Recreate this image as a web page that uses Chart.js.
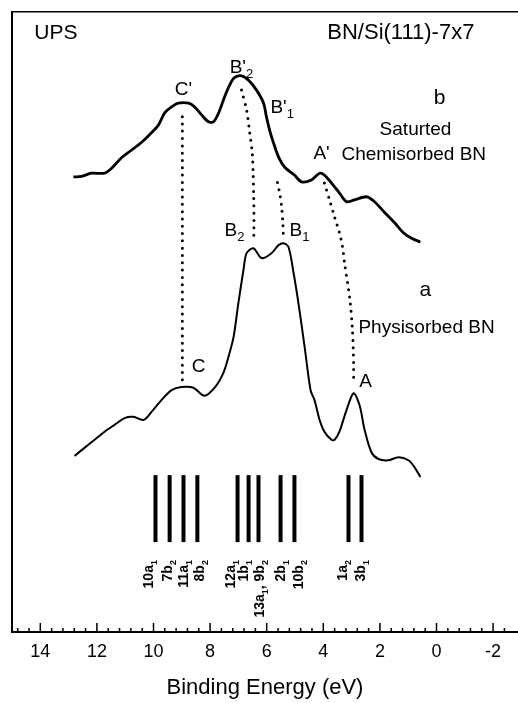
<!DOCTYPE html>
<html>
<head>
<meta charset="utf-8">
<title>UPS BN/Si(111)-7x7</title>
<script src="https://cdn.jsdelivr.net/npm/chart.js@4.4.1/dist/chart.umd.min.js"></script>
<style>
  html, body { margin: 0; padding: 0; background: #fff; }
  canvas { display: block; }
</style>
</head>
<body>
<canvas id="ups" width="518" height="703"></canvas>
<script>
// UPS-спектры BN на Si(111)-7x7 (энергия связи, эВ / интенсивность, отн. ед.)

// b — насыщенный хемосорбированный BN
const energyChem = [12.83, 12.54, 12.19, 11.73, 11.48, 11.13, 10.78, 10.42, 10.14, 9.82,
  9.61, 9.36, 9.12, 8.76, 8.55, 8.30, 8.06, 7.88, 7.70, 7.49,
  7.31, 7.14, 6.89, 6.64, 6.36, 6.11, 6.01, 5.90, 5.76, 5.58,
  5.37, 5.02, 4.77, 4.42, 4.13, 3.96, 3.71, 3.46, 3.18, 2.90,
  2.47, 2.19, 1.84, 1.48, 1.17, 0.88, 0.57];
const countsChem = [73.4, 73.5, 74.0, 74.0, 74.8, 76.5, 77.7, 79.0, 80.2, 81.8,
  83.7, 84.7, 85.3, 85.3, 84.7, 83.4, 82.3, 82.3, 83.7, 86.3,
  88.2, 89.4, 89.7, 89.0, 87.4, 85.3, 83.1, 81.0, 78.9, 76.6,
  75.0, 73.7, 72.6, 72.9, 74.0, 73.7, 72.4, 71.0, 69.4, 69.7,
  70.2, 69.4, 67.7, 66.0, 64.4, 63.5, 62.9];

// a — физсорбированный BN
const energyPhys = [12.79, 12.44, 12.08, 11.73, 11.38, 11.02, 10.71, 10.35, 10.07, 9.72,
  9.36, 9.01, 8.59, 8.20, 7.84, 7.53, 7.35, 7.17, 7.00, 6.82,
  6.71, 6.47, 6.18, 5.83, 5.58, 5.41, 5.23, 5.05, 4.88, 4.66,
  4.45, 4.31, 4.13, 3.96, 3.71, 3.60, 3.43, 3.18, 2.93, 2.72,
  2.54, 2.30, 2.05, 1.70, 1.34, 0.99, 0.78, 0.57];
const countsPhys = [28.4, 29.7, 31.0, 32.3, 33.4, 34.5, 34.7, 34.2, 35.5, 37.4,
  39.0, 39.5, 39.4, 38.1, 39.4, 41.8, 44.4, 47.6, 53.1, 58.4,
  61.1, 61.9, 60.3, 61.1, 62.4, 62.7, 62.1, 57.9, 53.1, 46.0,
  39.0, 37.4, 34.2, 32.3, 31.0, 31.0, 32.3, 35.8, 38.5, 36.6,
  32.6, 29.0, 27.9, 27.7, 28.2, 27.7, 26.6, 25.0];

// расчётные уровни молекулы (вертикальные палочки)
const orbitalEnergy = [9.93, 9.43, 8.94, 8.45, 7.03, 6.64, 6.29, 5.51, 5.02, 3.11, 2.65];
const orbitalNames = ['10a_1', '7b_2', '11a_1', '8b_2', '12a_1', '1b_1', '13a_1, 9b_2', '2b_1', '10b_2', '1a_2', '3b_1'];
const stickRange = [14.5, 25.3];

// пунктир: соответствие пиков b -> a
const linkCE = [8.98, 8.98];
const linkCV = [83.1, 39.8];
const linkB2E = [6.89, 6.71, 6.60, 6.51, 6.48, 6.46, 6.45, 6.46];
const linkB2V = [87.4, 84.2, 80.5, 77.3, 74.0, 70.2, 66.5, 63.0];
const linkB1E = [5.62, 5.53, 5.47, 5.43, 5.41];
const linkB1V = [72.5, 70.5, 68.5, 66.0, 63.5];
const linkAE = [3.96, 3.78, 3.60, 3.43, 3.32, 3.25, 3.07, 2.97, 2.93, 2.93];
const linkAV = [72.4, 69.7, 66.9, 64.4, 62.1, 59.5, 54.0, 48.7, 43.4, 40.2];

// шкала энергии
const majorTicks = [14, 12, 10, 8, 6, 4, 2, 0, -2];

const FONT = '"Liberation Sans", Arial, Helvetica, sans-serif';

// подписи на поле графика (в координатах данных)
const notes = [
  { text: 'UPS', e: 14.21, v: 96.6, align: 'left', size: 21 },
  { text: 'BN/Si(111)-7x7', e: -1.34, v: 96.6, align: 'right', size: 22 },
  { text: 'b', e: -0.11, v: 86.1, align: 'center', size: 21 },
  { text: 'Saturted', e: 2.01, v: 81.0, align: 'left', size: 19 },
  { text: 'Chemisorbed BN', e: 3.36, v: 76.9, align: 'left', size: 19 },
  { text: "A'", e: 4.06, v: 77.1, align: 'center', size: 19 },
  { text: "C'", e: 8.94, v: 87.4, align: 'center', size: 19 },
  { text: "B'_2", e: 7.31, v: 91.0, align: 'left', size: 19 },
  { text: "B'_1", e: 5.87, v: 84.5, align: 'left', size: 19 },
  { text: 'B_2', e: 7.49, v: 64.7, align: 'left', size: 19 },
  { text: 'B_1', e: 5.19, v: 64.7, align: 'left', size: 19 },
  { text: 'a', e: 0.39, v: 55.2, align: 'center', size: 21 },
  { text: 'Physisorbed BN', e: 2.76, v: 49.0, align: 'left', size: 19 },
  { text: 'C', e: 8.41, v: 42.7, align: 'center', size: 19 },
  { text: 'A', e: 2.51, v: 40.3, align: 'center', size: 19 }
];
// где стоят подписи орбиталей (по горизонтали)
const orbitalLabelE = [10.14, 9.47, 8.90, 8.34, 7.24, 6.78, 6.22, 5.48, 4.84, 3.29, 2.65];
const orbitalLabelTop = 11.6;

function toPoints(xs, ys) {
  return xs.map((x, i) => ({ x: x, y: ys[i] }));
}

// текст с нижними индексами: "B'_2" -> B' + индекс 2
function drawRich(ctx, x, y, str, size, align, bold) {
  const parts = str.split(/_(\w)/);
  const big = (bold ? 'bold ' : '') + size + 'px ' + FONT;
  const small = (bold ? 'bold ' : '') + Math.round(size * 0.66) + 'px ' + FONT;
  let total = 0;
  const widths = parts.map((p, i) => {
    ctx.font = i % 2 ? small : big;
    const w = ctx.measureText(p).width;
    total += w;
    return w;
  });
  let cx = align === 'left' ? x : align === 'right' ? x - total : x - total / 2;
  ctx.textAlign = 'left';
  ctx.textBaseline = 'middle';
  parts.forEach((p, i) => {
    ctx.font = i % 2 ? small : big;
    ctx.fillText(p, cx, i % 2 ? y + size * 0.35 : y);
    cx += widths[i];
  });
}

const annotations = {
  id: 'annotations',
  afterDraw(chart) {
    const ctx = chart.ctx;
    const xs = chart.scales.x;
    const ys = chart.scales.y;
    ctx.save();
    ctx.fillStyle = '#000';

    notes.forEach(n => {
      drawRich(ctx, xs.getPixelForValue(n.e), ys.getPixelForValue(n.v), n.text, n.size, n.align, false);
    });

    // повёрнутые подписи орбиталей
    orbitalNames.forEach((name, i) => {
      ctx.save();
      ctx.translate(xs.getPixelForValue(orbitalLabelE[i]), ys.getPixelForValue(orbitalLabelTop));
      ctx.rotate(-Math.PI / 2);
      drawRich(ctx, 0, 0, name, 14, 'right', true);
      ctx.restore();
    });

    // засечки шкалы внутрь поля
    const base = ys.getPixelForValue(ys.min);
    ctx.strokeStyle = '#000';
    ctx.lineWidth = 1.5;
    ctx.beginPath();
    majorTicks.forEach(t => {
      const px = xs.getPixelForValue(t);
      ctx.moveTo(px, base);
      ctx.lineTo(px, base - 9);
      for (let k = 1; k <= 4; k++) {
        const m = t + k * 0.4;
        if (m > xs.max) continue;
        const pm = xs.getPixelForValue(m);
        ctx.moveTo(pm, base);
        ctx.lineTo(pm, base - 4);
      }
    });
    const pEdge = xs.getPixelForValue(-2.4);
    ctx.moveTo(pEdge, base);
    ctx.lineTo(pEdge, base - 4);
    ctx.stroke();
    ctx.restore();
  }
};

const dotted = {
  borderColor: '#000',
  borderWidth: 3,
  borderDash: [0, 7.3],
  borderCapStyle: 'round',
  showLine: true,
  tension: 0.3
};

const stickSets = orbitalEnergy.map(e => ({
  data: [{ x: e, y: stickRange[0] }, { x: e, y: stickRange[1] }],
  borderColor: '#000',
  borderWidth: 4,
  borderCapStyle: 'butt',
  showLine: true
}));

new Chart(document.getElementById('ups'), {
  type: 'scatter',
  data: {
    datasets: [
      {
        label: 'Saturted Chemisorbed BN',
        data: toPoints(energyChem, countsChem),
        borderColor: '#000',
        borderWidth: 2.8,
        showLine: true,
        tension: 0.3
      },
      {
        label: 'Physisorbed BN',
        data: toPoints(energyPhys, countsPhys),
        borderColor: '#000',
        borderWidth: 2,
        showLine: true,
        tension: 0.3
      },
      Object.assign({ data: toPoints(linkCE, linkCV) }, dotted),
      Object.assign({ data: toPoints(linkB2E, linkB2V) }, dotted),
      Object.assign({ data: toPoints(linkB1E, linkB1V) }, dotted),
      Object.assign({ data: toPoints(linkAE, linkAV) }, dotted)
    ].concat(stickSets)
  },
  options: {
    responsive: false,
    animation: false,
    layout: { padding: { left: 12, top: 12, right: 0, bottom: 0 } },
    elements: { point: { radius: 0, hoverRadius: 0 } },
    plugins: {
      legend: { display: false },
      tooltip: { enabled: false }
    },
    scales: {
      x: {
        type: 'linear',
        position: 'bottom',
        reverse: true,
        min: -2.88,
        max: 15,
        afterBuildTicks: scale => { scale.ticks = majorTicks.map(v => ({ value: v })); },
        afterFit: scale => { scale.height = 71; },
        grid: { drawOnChartArea: false, drawTicks: false },
        border: { display: true, color: '#000', width: 2 },
        ticks: {
          padding: 9,
          color: '#000',
          maxRotation: 0,
          font: { family: FONT, size: 18 }
        },
        title: {
          display: true,
          text: 'Binding Energy (eV)',
          color: '#000',
          padding: { top: 0, bottom: 2 },
          font: { family: FONT, size: 22 }
        }
      },
      xTop: {
        type: 'linear',
        position: 'top',
        reverse: true,
        min: -2.88,
        max: 15,
        ticks: { display: false },
        grid: { drawOnChartArea: false, drawTicks: false },
        border: { display: true, color: '#000', width: 1.5 }
      },
      y: {
        type: 'linear',
        min: 0,
        max: 100,
        ticks: { display: false },
        grid: { drawOnChartArea: false, drawTicks: false },
        border: { display: true, color: '#000', width: 2 }
      }
    }
  },
  plugins: [annotations]
});
</script>
</body>
</html>
